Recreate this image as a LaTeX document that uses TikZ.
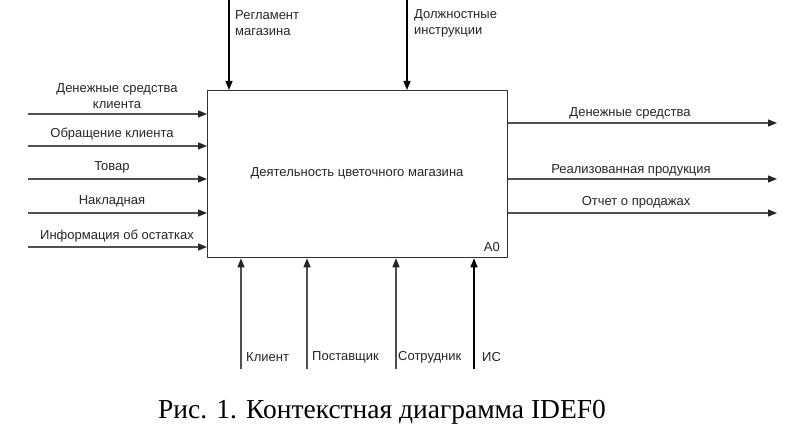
\documentclass[tikz,border=0pt]{standalone}
\usepackage{fontspec}
\setmainfont{Liberation Serif}
\newfontfamily\diafont{Liberation Sans}
\usetikzlibrary{arrows.meta}
\definecolor{lineg}{HTML}{505050}
\begin{document}
\begin{tikzpicture}[x=1pt,y=-1pt,
  flow/.style={draw=lineg,line width=1.3pt,-{Triangle[length=9pt,width=7pt,color=black!85]}},
  flowblk/.style={draw=black,line width=1.3pt,-{Triangle[length=9pt,width=7pt]}},
  lbl/.style={font=\diafont\fontsize{13}{16}\selectfont,text=black!85,inner sep=0pt,align=center},
  lbll/.style={lbl,anchor=west,align=left}]
\useasboundingbox (0,0) rectangle (795,425);
\fill[white] (0,0) rectangle (795,425);
% main box
\node[draw=black!80,line width=1.3pt,minimum width=300pt,minimum height=167pt,anchor=north west,inner sep=0pt] (box) at (207,90) {};
\node[lbl] (title) at (357,173) {Деятельность цветочного магазина};
\node[lbl,anchor=south east] (a0) at (500,252) {A0};
% inputs
\coordinate (i1) at (28,114);
\coordinate (i2) at (28,146);
\coordinate (i3) at (28,179);
\coordinate (i4) at (28,213);
\coordinate (i5) at (28,247);
\draw[flow] (i1) -- (i1 -| box.west);
\draw[flow] (i2) -- (i2 -| box.west);
\draw[flow] (i3) -- (i3 -| box.west);
\draw[flow] (i4) -- (i4 -| box.west);
\draw[flow] (i5) -- (i5 -| box.west);
\node[lbl] (li1) at (117,96) {Денежные средства\\клиента};
\node[lbl] (li2) at (112,134) {Обращение клиента};
\node[lbl] (li3) at (112,167) {Товар};
\node[lbl] (li4) at (112,201) {Накладная};
\node[lbl] (li5) at (117,236) {Информация об остатках};
% controls
\coordinate (c1) at (229,0);
\coordinate (c2) at (407,0);
\draw[flowblk] (c1) -- (c1 |- box.north);
\draw[flowblk] (c2) -- (c2 |- box.north);
\node[lbll] (lc1) at (235,23) {Регламент\\магазина};
\node[lbll] (lc2) at (414,23) {Должностные\\инструкции};
% outputs
\coordinate (o1) at (777,123);
\coordinate (o2) at (777,179);
\coordinate (o3) at (777,213);
\draw[flow] (o1 -| box.east) -- (o1);
\draw[flow] (o2 -| box.east) -- (o2);
\draw[flow] (o3 -| box.east) -- (o3);
\node[lbl] (lo1) at (630,113) {Денежные средства};
\node[lbl] (lo2) at (631,170) {Реализованная продукция};
\node[lbl] (lo3) at (636,202) {Отчет о продажах};
% mechanisms
\coordinate (m1) at (241,369);
\coordinate (m2) at (307,369);
\coordinate (m3) at (396,369);
\coordinate (m4) at (474,369);
\draw[flow] (m1) -- (m1 |- box.south);
\draw[flow] (m2) -- (m2 |- box.south);
\draw[flow] (m3) -- (m3 |- box.south);
\draw[flowblk] (m4) -- (m4 |- box.south);
\node[lbll] (lm1) at (246,357) {Клиент};
\node[lbll] (lm2) at (312,357) {Поставщик};
\node[lbll] (lm3) at (398,357) {Сотрудник};
\node[lbll] (lm4) at (482,357) {ИС};
% caption
\node[font=\fontsize{27.5}{30}\selectfont,inner sep=0pt,anchor=base] (cap) at (382,418) {Рис. 1. Контекстная диаграмма IDEF0};
\end{tikzpicture}
\end{document}
